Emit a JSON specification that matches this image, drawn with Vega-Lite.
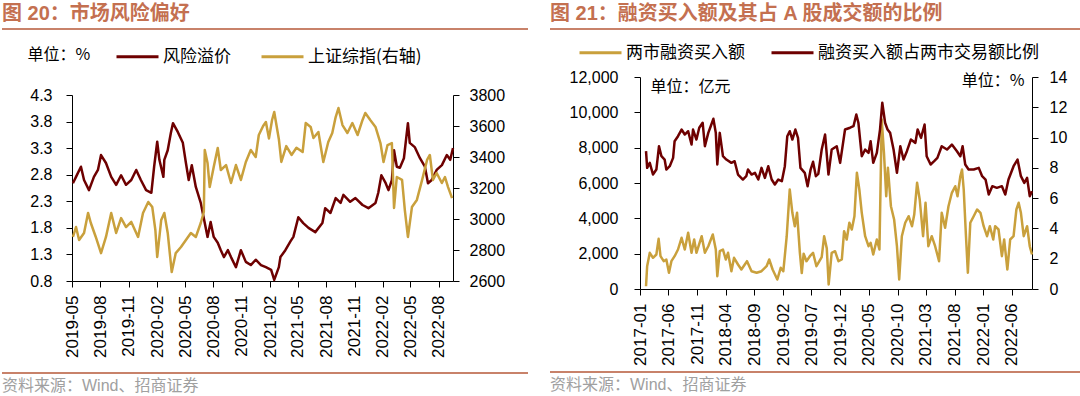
{
  "$schema": "https://vega.github.io/schema/vega-lite/v6.json",
  "padding": {"left": 2, "top": 4, "right": 0, "bottom": 0},
  "background": "white",
  "config": {
    "font": "Liberation Sans",
    "view": {"stroke": null},
    "axis": {"domainColor": "#000", "tickColor": "#000", "labelColor": "#000", "grid": false, "labelFont": "Liberation Sans", "labelFontSize": 16, "titleFont": "Noto Sans CJK SC", "titleFontWeight": "normal", "titleColor": "#000", "titleFontSize": 16, "tickSize": 6, "domainWidth": 1, "tickWidth": 1, "labelOverlap": false},
    "axisX": {"labelOverlap": false, "labelSeparation": 0, "labelFlush": false},
    "legend": {"orient": "none", "direction": "horizontal", "symbolType": "stroke", "symbolStrokeWidth": 3, "symbolSize": 1764, "labelFont": "Noto Sans CJK SC", "labelFontSize": 17, "labelColor": "#000", "labelOffset": 3, "labelLimit": 500, "padding": 0, "title": null},
    "title": {"font": "Liberation Sans, Noto Sans CJK SC", "anchor": "start", "frame": "group"}
  },
  "datasets": {
    "risk": [
      {"date": "2019-05-04", "value": 2.64}, {"date": "2019-05-14", "value": 2.76}, {"date": "2019-05-30", "value": 2.95}, {"date": "2019-06-09", "value": 2.70},
      {"date": "2019-06-25", "value": 2.51}, {"date": "2019-07-11", "value": 2.76}, {"date": "2019-07-24", "value": 2.89}, {"date": "2019-08-03", "value": 3.17},
      {"date": "2019-08-19", "value": 3.02}, {"date": "2019-09-05", "value": 2.76}, {"date": "2019-09-21", "value": 2.61}, {"date": "2019-10-07", "value": 2.79},
      {"date": "2019-10-23", "value": 2.61}, {"date": "2019-11-09", "value": 2.70}, {"date": "2019-11-25", "value": 2.89}, {"date": "2019-12-10", "value": 2.70},
      {"date": "2019-12-27", "value": 2.51}, {"date": "2020-01-13", "value": 2.46}, {"date": "2020-01-22", "value": 2.95}, {"date": "2020-02-01", "value": 3.42},
      {"date": "2020-02-08", "value": 3.08}, {"date": "2020-02-21", "value": 2.76}, {"date": "2020-02-24", "value": 3.08}, {"date": "2020-03-06", "value": 3.26},
      {"date": "2020-03-16", "value": 3.58}, {"date": "2020-03-23", "value": 3.77}, {"date": "2020-04-08", "value": 3.60}, {"date": "2020-04-24", "value": 3.40},
      {"date": "2020-05-04", "value": 3.02}, {"date": "2020-05-13", "value": 2.70}, {"date": "2020-05-23", "value": 2.98}, {"date": "2020-06-05", "value": 2.57},
      {"date": "2020-06-21", "value": 2.27}, {"date": "2020-07-04", "value": 1.89}, {"date": "2020-07-13", "value": 1.63}, {"date": "2020-07-23", "value": 1.91},
      {"date": "2020-08-02", "value": 1.63}, {"date": "2020-08-15", "value": 1.52}, {"date": "2020-08-25", "value": 1.38}, {"date": "2020-09-04", "value": 1.25},
      {"date": "2020-09-17", "value": 1.38}, {"date": "2020-09-27", "value": 1.25}, {"date": "2020-10-13", "value": 1.06}, {"date": "2020-10-29", "value": 1.38},
      {"date": "2020-11-14", "value": 1.16}, {"date": "2020-11-30", "value": 1.10}, {"date": "2020-12-16", "value": 1.20}, {"date": "2021-01-02", "value": 1.10},
      {"date": "2021-01-18", "value": 1.06}, {"date": "2021-02-04", "value": 1.01}, {"date": "2021-02-14", "value": 0.82}, {"date": "2021-03-01", "value": 1.06},
      {"date": "2021-03-06", "value": 1.25}, {"date": "2021-03-22", "value": 1.38}, {"date": "2021-04-08", "value": 1.55}, {"date": "2021-04-17", "value": 1.63},
      {"date": "2021-05-03", "value": 2.00}, {"date": "2021-05-19", "value": 1.89}, {"date": "2021-06-05", "value": 1.80}, {"date": "2021-06-27", "value": 1.72},
      {"date": "2021-07-20", "value": 1.89}, {"date": "2021-07-29", "value": 2.17}, {"date": "2021-08-15", "value": 2.08}, {"date": "2021-09-01", "value": 2.36},
      {"date": "2021-09-17", "value": 2.27}, {"date": "2021-09-26", "value": 2.42}, {"date": "2021-10-18", "value": 2.29}, {"date": "2021-11-04", "value": 2.36},
      {"date": "2021-11-27", "value": 2.23}, {"date": "2021-12-16", "value": 2.17}, {"date": "2022-01-08", "value": 2.27}, {"date": "2022-01-17", "value": 2.46},
      {"date": "2022-01-27", "value": 2.79}, {"date": "2022-02-10", "value": 2.64}, {"date": "2022-02-19", "value": 2.51}, {"date": "2022-03-02", "value": 2.70},
      {"date": "2022-03-09", "value": 3.26}, {"date": "2022-03-18", "value": 2.95}, {"date": "2022-03-28", "value": 2.93}, {"date": "2022-04-10", "value": 3.11},
      {"date": "2022-04-23", "value": 3.77}, {"date": "2022-04-29", "value": 3.40}, {"date": "2022-05-15", "value": 3.32}, {"date": "2022-06-01", "value": 3.11},
      {"date": "2022-06-17", "value": 2.95}, {"date": "2022-06-27", "value": 2.64}, {"date": "2022-07-09", "value": 2.70}, {"date": "2022-07-25", "value": 2.89},
      {"date": "2022-08-11", "value": 2.98}, {"date": "2022-08-27", "value": 3.17}, {"date": "2022-09-07", "value": 3.08}, {"date": "2022-09-16", "value": 3.30}
    ],
    "sh": [
      {"date": "2019-05-04", "value": 2884}, {"date": "2019-05-14", "value": 2948}, {"date": "2019-05-24", "value": 2864}, {"date": "2019-06-09", "value": 2910},
      {"date": "2019-06-22", "value": 3039}, {"date": "2019-07-01", "value": 2974}, {"date": "2019-07-17", "value": 2884}, {"date": "2019-08-03", "value": 2780},
      {"date": "2019-08-19", "value": 2884}, {"date": "2019-09-05", "value": 3039}, {"date": "2019-09-21", "value": 2910}, {"date": "2019-10-07", "value": 3006},
      {"date": "2019-10-23", "value": 2948}, {"date": "2019-11-09", "value": 2981}, {"date": "2019-12-01", "value": 2884}, {"date": "2019-12-17", "value": 3039},
      {"date": "2020-01-03", "value": 3110}, {"date": "2020-01-16", "value": 3077}, {"date": "2020-01-26", "value": 2929}, {"date": "2020-02-01", "value": 2755},
      {"date": "2020-02-14", "value": 2994}, {"date": "2020-02-24", "value": 3039}, {"date": "2020-03-06", "value": 2910}, {"date": "2020-03-19", "value": 2658},
      {"date": "2020-04-01", "value": 2780}, {"date": "2020-04-18", "value": 2819}, {"date": "2020-05-04", "value": 2864}, {"date": "2020-05-20", "value": 2910},
      {"date": "2020-06-05", "value": 2884}, {"date": "2020-06-21", "value": 2974}, {"date": "2020-07-01", "value": 3045}, {"date": "2020-07-04", "value": 3445},
      {"date": "2020-07-13", "value": 3361}, {"date": "2020-07-20", "value": 3206}, {"date": "2020-08-02", "value": 3335}, {"date": "2020-08-15", "value": 3458},
      {"date": "2020-08-25", "value": 3316}, {"date": "2020-09-11", "value": 3348}, {"date": "2020-09-27", "value": 3232}, {"date": "2020-10-13", "value": 3348},
      {"date": "2020-10-29", "value": 3252}, {"date": "2020-11-14", "value": 3368}, {"date": "2020-11-30", "value": 3445}, {"date": "2020-12-16", "value": 3400},
      {"date": "2020-12-26", "value": 3542}, {"date": "2021-01-09", "value": 3600}, {"date": "2021-01-18", "value": 3626}, {"date": "2021-01-28", "value": 3520},
      {"date": "2021-02-07", "value": 3639}, {"date": "2021-02-14", "value": 3690}, {"date": "2021-03-01", "value": 3515}, {"date": "2021-03-09", "value": 3368},
      {"date": "2021-03-25", "value": 3470}, {"date": "2021-04-11", "value": 3413}, {"date": "2021-04-27", "value": 3460}, {"date": "2021-05-17", "value": 3432},
      {"date": "2021-05-27", "value": 3619}, {"date": "2021-06-12", "value": 3594}, {"date": "2021-06-21", "value": 3523}, {"date": "2021-07-07", "value": 3561},
      {"date": "2021-07-23", "value": 3368}, {"date": "2021-08-08", "value": 3497}, {"date": "2021-08-21", "value": 3555}, {"date": "2021-09-01", "value": 3658},
      {"date": "2021-09-10", "value": 3716}, {"date": "2021-09-23", "value": 3606}, {"date": "2021-10-09", "value": 3555}, {"date": "2021-10-25", "value": 3619},
      {"date": "2021-11-11", "value": 3542}, {"date": "2021-11-27", "value": 3639}, {"date": "2021-12-06", "value": 3684}, {"date": "2021-12-22", "value": 3639},
      {"date": "2022-01-08", "value": 3594}, {"date": "2022-01-24", "value": 3490}, {"date": "2022-02-03", "value": 3368}, {"date": "2022-02-16", "value": 3477},
      {"date": "2022-03-02", "value": 3490}, {"date": "2022-03-09", "value": 3071}, {"date": "2022-03-18", "value": 3271}, {"date": "2022-04-04", "value": 3252},
      {"date": "2022-04-13", "value": 3058}, {"date": "2022-04-23", "value": 2884}, {"date": "2022-05-06", "value": 3077}, {"date": "2022-05-22", "value": 3123},
      {"date": "2022-06-08", "value": 3252}, {"date": "2022-06-24", "value": 3381}, {"date": "2022-07-03", "value": 3413}, {"date": "2022-07-13", "value": 3252},
      {"date": "2022-07-25", "value": 3297}, {"date": "2022-08-11", "value": 3232}, {"date": "2022-08-21", "value": 3271}, {"date": "2022-08-31", "value": 3206},
      {"date": "2022-09-13", "value": 3135}
    ],
    "margin": [
      {"date": "2017-02-02", "value": 158}, {"date": "2017-02-08", "value": 1290}, {"date": "2017-02-22", "value": 2049}, {"date": "2017-03-11", "value": 1766},
      {"date": "2017-03-29", "value": 1953}, {"date": "2017-04-10", "value": 2841}, {"date": "2017-04-20", "value": 1857}, {"date": "2017-05-07", "value": 1574},
      {"date": "2017-05-21", "value": 1670}, {"date": "2017-06-04", "value": 917}, {"date": "2017-06-17", "value": 1574}, {"date": "2017-07-04", "value": 1857},
      {"date": "2017-07-22", "value": 2236}, {"date": "2017-08-10", "value": 2898}, {"date": "2017-08-27", "value": 2236}, {"date": "2017-09-14", "value": 3181},
      {"date": "2017-10-02", "value": 2049}, {"date": "2017-10-16", "value": 2802}, {"date": "2017-10-28", "value": 2049}, {"date": "2017-11-25", "value": 2988},
      {"date": "2017-12-12", "value": 2049}, {"date": "2017-12-30", "value": 2422}, {"date": "2018-01-23", "value": 3085}, {"date": "2018-02-08", "value": 2236},
      {"date": "2018-02-16", "value": 724}, {"date": "2018-03-01", "value": 2140}, {"date": "2018-03-18", "value": 2236}, {"date": "2018-04-02", "value": 1670},
      {"date": "2018-04-14", "value": 2049}, {"date": "2018-05-02", "value": 1007}, {"date": "2018-05-16", "value": 1766}, {"date": "2018-06-06", "value": 1387},
      {"date": "2018-06-24", "value": 1104}, {"date": "2018-07-24", "value": 1574}, {"date": "2018-08-17", "value": 1007}, {"date": "2018-09-13", "value": 917},
      {"date": "2018-10-09", "value": 1007}, {"date": "2018-11-05", "value": 1290}, {"date": "2018-11-19", "value": 1670}, {"date": "2018-12-07", "value": 1104},
      {"date": "2019-01-01", "value": 538}, {"date": "2019-01-19", "value": 1200}, {"date": "2019-02-02", "value": 1007}, {"date": "2019-02-20", "value": 2988},
      {"date": "2019-03-08", "value": 5632}, {"date": "2019-03-22", "value": 4313}, {"date": "2019-04-04", "value": 3554}, {"date": "2019-04-16", "value": 4313},
      {"date": "2019-05-01", "value": 2049}, {"date": "2019-05-11", "value": 900}, {"date": "2019-05-21", "value": 2000}, {"date": "2019-06-05", "value": 1574},
      {"date": "2019-06-23", "value": 1857}, {"date": "2019-07-10", "value": 2049}, {"date": "2019-07-28", "value": 1290}, {"date": "2019-08-25", "value": 1800},
      {"date": "2019-09-07", "value": 2988}, {"date": "2019-09-21", "value": 2300}, {"date": "2019-10-01", "value": 255}, {"date": "2019-10-17", "value": 2049},
      {"date": "2019-11-04", "value": 2140}, {"date": "2019-11-22", "value": 1574}, {"date": "2019-12-10", "value": 1670}, {"date": "2019-12-22", "value": 3272},
      {"date": "2020-01-05", "value": 2802}, {"date": "2020-01-19", "value": 3747}, {"date": "2020-02-01", "value": 3368}, {"date": "2020-02-15", "value": 4120},
      {"date": "2020-02-28", "value": 6577}, {"date": "2020-03-12", "value": 5632}, {"date": "2020-03-25", "value": 4313}, {"date": "2020-04-12", "value": 2988},
      {"date": "2020-04-30", "value": 2422}, {"date": "2020-05-11", "value": 2615}, {"date": "2020-05-25", "value": 1953}, {"date": "2020-06-13", "value": 2802},
      {"date": "2020-06-27", "value": 2236}, {"date": "2020-07-09", "value": 9594}, {"date": "2020-07-21", "value": 7709}, {"date": "2020-08-02", "value": 5252},
      {"date": "2020-08-11", "value": 6860}, {"date": "2020-08-27", "value": 4687}, {"date": "2020-09-13", "value": 3934}, {"date": "2020-09-28", "value": 2422},
      {"date": "2020-10-10", "value": 538}, {"date": "2020-10-24", "value": 2988}, {"date": "2020-11-11", "value": 3747}, {"date": "2020-11-29", "value": 4120},
      {"date": "2020-12-17", "value": 3554}, {"date": "2020-12-29", "value": 4216}, {"date": "2021-01-13", "value": 6011}, {"date": "2021-01-27", "value": 5066},
      {"date": "2021-02-14", "value": 2988}, {"date": "2021-02-27", "value": 4879}, {"date": "2021-03-14", "value": 2422}, {"date": "2021-04-01", "value": 2988},
      {"date": "2021-04-19", "value": 2422}, {"date": "2021-05-10", "value": 1574}, {"date": "2021-05-24", "value": 4313}, {"date": "2021-06-11", "value": 3464},
      {"date": "2021-06-29", "value": 4687}, {"date": "2021-07-17", "value": 5445}, {"date": "2021-08-04", "value": 5819}, {"date": "2021-08-16", "value": 5252},
      {"date": "2021-08-31", "value": 6384}, {"date": "2021-09-09", "value": 6764}, {"date": "2021-09-18", "value": 5632}, {"date": "2021-09-30", "value": 2988},
      {"date": "2021-10-10", "value": 917}, {"date": "2021-10-23", "value": 3747}, {"date": "2021-11-10", "value": 4120}, {"date": "2021-11-28", "value": 4500},
      {"date": "2021-12-16", "value": 4313}, {"date": "2022-01-02", "value": 3554}, {"date": "2022-01-20", "value": 2988}, {"date": "2022-02-04", "value": 3554},
      {"date": "2022-02-22", "value": 2802}, {"date": "2022-03-04", "value": 3554}, {"date": "2022-03-22", "value": 3368}, {"date": "2022-04-09", "value": 1857},
      {"date": "2022-04-21", "value": 2802}, {"date": "2022-05-08", "value": 1104}, {"date": "2022-05-23", "value": 2802}, {"date": "2022-06-10", "value": 2988},
      {"date": "2022-06-25", "value": 4500}, {"date": "2022-07-07", "value": 4879}, {"date": "2022-07-19", "value": 4313}, {"date": "2022-08-03", "value": 2988},
      {"date": "2022-08-21", "value": 3554}, {"date": "2022-09-04", "value": 2422}, {"date": "2022-09-16", "value": 1953}
    ],
    "ratio": [
      {"date": "2017-02-02", "value": 9.10}, {"date": "2017-02-08", "value": 8.00}, {"date": "2017-02-22", "value": 8.33}, {"date": "2017-03-11", "value": 7.56},
      {"date": "2017-03-29", "value": 7.89}, {"date": "2017-04-12", "value": 9.43}, {"date": "2017-04-25", "value": 8.77}, {"date": "2017-05-12", "value": 8.55},
      {"date": "2017-05-21", "value": 7.89}, {"date": "2017-06-08", "value": 8.11}, {"date": "2017-06-26", "value": 8.66}, {"date": "2017-07-04", "value": 9.76},
      {"date": "2017-07-22", "value": 10.09}, {"date": "2017-08-10", "value": 10.53}, {"date": "2017-08-27", "value": 10.20}, {"date": "2017-09-14", "value": 10.42},
      {"date": "2017-10-02", "value": 9.54}, {"date": "2017-10-10", "value": 10.53}, {"date": "2017-10-28", "value": 9.87}, {"date": "2017-11-12", "value": 10.65},
      {"date": "2017-11-30", "value": 10.98}, {"date": "2017-12-12", "value": 9.43}, {"date": "2017-12-30", "value": 10.31}, {"date": "2018-01-12", "value": 10.75},
      {"date": "2018-01-26", "value": 11.24}, {"date": "2018-02-08", "value": 10.31}, {"date": "2018-02-16", "value": 8.22}, {"date": "2018-03-01", "value": 10.31},
      {"date": "2018-03-18", "value": 8.77}, {"date": "2018-04-05", "value": 8.55}, {"date": "2018-05-02", "value": 8.33}, {"date": "2018-05-19", "value": 8.44},
      {"date": "2018-06-06", "value": 7.56}, {"date": "2018-07-02", "value": 7.23}, {"date": "2018-07-20", "value": 7.45}, {"date": "2018-07-29", "value": 7.89},
      {"date": "2018-08-17", "value": 7.56}, {"date": "2018-09-04", "value": 7.67}, {"date": "2018-09-22", "value": 7.23}, {"date": "2018-10-09", "value": 8.00},
      {"date": "2018-10-27", "value": 7.34}, {"date": "2018-11-14", "value": 8.11}, {"date": "2018-12-02", "value": 7.23}, {"date": "2018-12-19", "value": 6.90},
      {"date": "2019-01-06", "value": 7.23}, {"date": "2019-01-25", "value": 7.12}, {"date": "2019-02-10", "value": 8.11}, {"date": "2019-02-23", "value": 10.09},
      {"date": "2019-03-08", "value": 10.42}, {"date": "2019-03-22", "value": 9.87}, {"date": "2019-04-07", "value": 10.53}, {"date": "2019-04-21", "value": 9.98},
      {"date": "2019-05-04", "value": 8.00}, {"date": "2019-05-27", "value": 7.67}, {"date": "2019-06-11", "value": 6.79}, {"date": "2019-06-27", "value": 7.89},
      {"date": "2019-07-10", "value": 8.40}, {"date": "2019-07-25", "value": 7.45}, {"date": "2019-08-07", "value": 7.60}, {"date": "2019-08-25", "value": 9.21},
      {"date": "2019-09-12", "value": 10.20}, {"date": "2019-09-30", "value": 7.56}, {"date": "2019-10-17", "value": 9.21}, {"date": "2019-11-13", "value": 9.43},
      {"date": "2019-12-01", "value": 8.33}, {"date": "2019-12-27", "value": 10.53}, {"date": "2020-01-23", "value": 10.65}, {"date": "2020-02-10", "value": 10.75},
      {"date": "2020-02-25", "value": 11.52}, {"date": "2020-03-07", "value": 10.98}, {"date": "2020-03-25", "value": 8.77}, {"date": "2020-04-12", "value": 9.21},
      {"date": "2020-04-30", "value": 8.99}, {"date": "2020-05-11", "value": 9.76}, {"date": "2020-05-25", "value": 8.33}, {"date": "2020-06-13", "value": 8.99},
      {"date": "2020-06-30", "value": 10.53}, {"date": "2020-07-12", "value": 12.30}, {"date": "2020-07-27", "value": 10.98}, {"date": "2020-08-09", "value": 10.53},
      {"date": "2020-08-23", "value": 10.31}, {"date": "2020-09-10", "value": 9.21}, {"date": "2020-09-28", "value": 7.67}, {"date": "2020-10-16", "value": 9.43},
      {"date": "2020-11-02", "value": 8.55}, {"date": "2020-11-20", "value": 9.10}, {"date": "2020-12-11", "value": 9.87}, {"date": "2021-01-04", "value": 9.65},
      {"date": "2021-01-16", "value": 10.53}, {"date": "2021-02-03", "value": 9.98}, {"date": "2021-02-22", "value": 10.86}, {"date": "2021-03-05", "value": 8.77},
      {"date": "2021-03-26", "value": 8.22}, {"date": "2021-04-14", "value": 8.44}, {"date": "2021-05-01", "value": 8.66}, {"date": "2021-05-24", "value": 9.43},
      {"date": "2021-06-21", "value": 9.21}, {"date": "2021-07-17", "value": 9.54}, {"date": "2021-08-13", "value": 9.10}, {"date": "2021-08-31", "value": 8.77},
      {"date": "2021-09-12", "value": 9.43}, {"date": "2021-09-26", "value": 8.22}, {"date": "2021-10-14", "value": 7.89}, {"date": "2021-11-10", "value": 7.89},
      {"date": "2021-12-07", "value": 8.00}, {"date": "2021-12-25", "value": 7.45}, {"date": "2022-01-12", "value": 7.23}, {"date": "2022-01-29", "value": 6.24},
      {"date": "2022-02-17", "value": 6.79}, {"date": "2022-03-13", "value": 6.68}, {"date": "2022-04-09", "value": 6.79}, {"date": "2022-04-27", "value": 6.24},
      {"date": "2022-05-14", "value": 7.23}, {"date": "2022-06-10", "value": 8.11}, {"date": "2022-07-01", "value": 8.55}, {"date": "2022-07-19", "value": 7.45},
      {"date": "2022-08-06", "value": 7.01}, {"date": "2022-08-21", "value": 7.34}, {"date": "2022-09-04", "value": 6.13}, {"date": "2022-09-16", "value": 6.46}
    ]
  },
  "spacing": 22,
  "resolve": {"scale": {"color": "independent"}, "legend": {"color": "independent"}},
  "hconcat": [
    {
      "spacing": 4,
      "resolve": {"scale": {"color": "independent"}, "legend": {"color": "independent"}},
      "vconcat": [
        {
          "width": 526, "height": 2,
          "data": {"values": []},
          "mark": "point",
          "view": {"fill": "#C8826A", "stroke": null},
          "title": {"text": "图 20：市场风险偏好", "fontSize": 20, "fontWeight": "bold", "color": "#C47050", "offset": 4}
        },
        {
          "spacing": 14,
          "resolve": {"scale": {"color": "independent"}, "legend": {"color": "independent"}},
          "vconcat": [
            {
              "spacing": 0,
              "resolve": {"scale": {"color": "independent"}, "legend": {"color": "independent"}},
              "hconcat": [
                {"width": 25, "height": 1, "data": {"values": []}, "mark": "point"},
                {
                  "width": 381, "height": 186,
                  "resolve": {"scale": {"y": "independent"}},
                  "layer": [
                    {
                      "data": {"name": "risk"},
                      "mark": {"type": "line", "strokeWidth": 2.5, "strokeJoin": "round"},
                      "encoding": {
                        "x": {"field": "date", "type": "temporal",
                          "scale": {"domain": [{"year": 2019, "month": 5, "date": 1}, {"year": 2022, "month": 9, "date": 16}]},
                          "axis": {"title": null, "format": "%Y-%m", "labelAngle": 270, "labelFontSize": 17, "labelPadding": 8, "labelFlush": false, "labelOverlap": false, "labelSeparation": 0,
                            "values": [{"year": 2019, "month": 5, "date": 1}, {"year": 2019, "month": 8, "date": 1}, {"year": 2019, "month": 11, "date": 1}, {"year": 2020, "month": 2, "date": 1}, {"year": 2020, "month": 5, "date": 1}, {"year": 2020, "month": 8, "date": 1}, {"year": 2020, "month": 11, "date": 1}, {"year": 2021, "month": 2, "date": 1}, {"year": 2021, "month": 5, "date": 1}, {"year": 2021, "month": 8, "date": 1}, {"year": 2021, "month": 11, "date": 1}, {"year": 2022, "month": 2, "date": 1}, {"year": 2022, "month": 5, "date": 1}, {"year": 2022, "month": 8, "date": 1}]}},
                        "y": {"field": "value", "type": "quantitative",
                          "scale": {"domain": [0.8, 4.3], "zero": false, "nice": false},
                          "axis": {"orient": "left", "values": [0.8, 1.3, 1.8, 2.3, 2.8, 3.3, 3.8, 4.3], "format": ".1f", "labelPadding": 14,
                            "title": "单位：%", "titleAngle": 0, "titleAlign": "left", "titleBaseline": "middle", "titleX": -45, "titleY": -41}},
                        "color": {"datum": "风险溢价", "type": "nominal",
                          "scale": {"domain": ["风险溢价", "上证综指(右轴)"], "range": ["#6E0000", "#C9A03C"]},
                          "legend": {"legendX": 43, "legendY": -61, "columnPadding": 24}}
                      }
                    },
                    {
                      "data": {"name": "sh"},
                      "mark": {"type": "line", "strokeWidth": 2.5, "strokeJoin": "round"},
                      "encoding": {
                        "x": {"field": "date", "type": "temporal",
                          "scale": {"domain": [{"year": 2019, "month": 5, "date": 1}, {"year": 2022, "month": 9, "date": 16}]},
                          "axis": {"title": null, "format": "%Y-%m", "labelAngle": 270, "labelFontSize": 17, "labelPadding": 8, "labelFlush": false, "labelOverlap": false, "labelSeparation": 0,
                            "values": [{"year": 2019, "month": 5, "date": 1}, {"year": 2019, "month": 8, "date": 1}, {"year": 2019, "month": 11, "date": 1}, {"year": 2020, "month": 2, "date": 1}, {"year": 2020, "month": 5, "date": 1}, {"year": 2020, "month": 8, "date": 1}, {"year": 2020, "month": 11, "date": 1}, {"year": 2021, "month": 2, "date": 1}, {"year": 2021, "month": 5, "date": 1}, {"year": 2021, "month": 8, "date": 1}, {"year": 2021, "month": 11, "date": 1}, {"year": 2022, "month": 2, "date": 1}, {"year": 2022, "month": 5, "date": 1}, {"year": 2022, "month": 8, "date": 1}]}},
                        "y": {"field": "value", "type": "quantitative",
                          "scale": {"domain": [2600, 3800], "zero": false, "nice": false},
                          "axis": {"orient": "right", "values": [2600, 2800, 3000, 3200, 3400, 3600, 3800], "format": "d", "labelPadding": 10, "title": null}},
                        "color": {"datum": "上证综指(右轴)", "type": "nominal"}
                      }
                    }
                  ]
                }
              ]
            },
            {
              "width": 526, "height": 2,
              "data": {"values": []},
              "mark": "point",
              "view": {"fill": "#C8826A", "stroke": null},
              "title": {"text": "资料来源：Wind、招商证券", "orient": "bottom", "fontSize": 16, "fontWeight": "normal", "color": "#A0A0A0", "offset": 4, "font": "Liberation Sans, Noto Sans CJK SC"}
            }
          ]
        }
      ]
    },
    {
      "spacing": 0,
      "resolve": {"scale": {"color": "independent"}, "legend": {"color": "independent"}},
      "vconcat": [
        {
          "width": 530, "height": 2,
          "data": {"values": []},
          "mark": "point",
          "view": {"fill": "#C8826A", "stroke": null},
          "title": {"text": "图 21：融资买入额及其占 A 股成交额的比例", "fontSize": 20, "fontWeight": "bold", "color": "#C47050", "offset": 4}
        },
        {
          "spacing": 5,
          "resolve": {"scale": {"color": "independent"}, "legend": {"color": "independent"}},
          "vconcat": [
            {
              "spacing": 0,
              "resolve": {"scale": {"color": "independent"}, "legend": {"color": "independent"}},
              "hconcat": [
                {"width": 19, "height": 1, "data": {"values": []}, "mark": "point"},
                {
                  "width": 392, "height": 212,
                  "resolve": {"scale": {"y": "independent"}},
                  "layer": [
                    {
                      "data": {"name": "margin"},
                      "mark": {"type": "line", "strokeWidth": 2.5, "strokeJoin": "round"},
                      "encoding": {
                        "x": {"field": "date", "type": "temporal",
                          "scale": {"domain": [{"year": 2017, "month": 1, "date": 1}, {"year": 2022, "month": 9, "date": 16}]},
                          "axis": {"title": null, "format": "%Y-%m", "labelAngle": 270, "labelFontSize": 17, "labelPadding": 8, "labelFlush": false, "labelOverlap": false, "labelSeparation": 0,
                            "values": [{"year": 2017, "month": 1, "date": 1}, {"year": 2017, "month": 6, "date": 1}, {"year": 2017, "month": 11, "date": 1}, {"year": 2018, "month": 4, "date": 1}, {"year": 2018, "month": 9, "date": 1}, {"year": 2019, "month": 2, "date": 1}, {"year": 2019, "month": 7, "date": 1}, {"year": 2019, "month": 12, "date": 1}, {"year": 2020, "month": 5, "date": 1}, {"year": 2020, "month": 10, "date": 1}, {"year": 2021, "month": 3, "date": 1}, {"year": 2021, "month": 8, "date": 1}, {"year": 2022, "month": 1, "date": 1}, {"year": 2022, "month": 6, "date": 1}]}},
                        "y": {"field": "value", "type": "quantitative",
                          "scale": {"domain": [0, 12000], "zero": false, "nice": false},
                          "axis": {"orient": "left", "values": [0, 2000, 4000, 6000, 8000, 10000, 12000], "format": ",d", "labelPadding": 16,
                            "title": "单位：亿元", "titleAngle": 0, "titleAlign": "left", "titleBaseline": "middle", "titleX": 10, "titleY": 9}},
                        "color": {"datum": "两市融资买入额", "type": "nominal",
                          "scale": {"domain": ["两市融资买入额", "融资买入额占两市交易额比例"], "range": ["#C9A03C", "#6E0000"]},
                          "legend": {"legendX": -62, "legendY": -47, "columnPadding": 20}}
                      }
                    },
                    {
                      "data": {"name": "ratio"},
                      "mark": {"type": "line", "strokeWidth": 2.5, "strokeJoin": "round"},
                      "encoding": {
                        "x": {"field": "date", "type": "temporal",
                          "scale": {"domain": [{"year": 2017, "month": 1, "date": 1}, {"year": 2022, "month": 9, "date": 16}]},
                          "axis": {"title": null, "format": "%Y-%m", "labelAngle": 270, "labelFontSize": 17, "labelPadding": 8, "labelFlush": false, "labelOverlap": false, "labelSeparation": 0,
                            "values": [{"year": 2017, "month": 1, "date": 1}, {"year": 2017, "month": 6, "date": 1}, {"year": 2017, "month": 11, "date": 1}, {"year": 2018, "month": 4, "date": 1}, {"year": 2018, "month": 9, "date": 1}, {"year": 2019, "month": 2, "date": 1}, {"year": 2019, "month": 7, "date": 1}, {"year": 2019, "month": 12, "date": 1}, {"year": 2020, "month": 5, "date": 1}, {"year": 2020, "month": 10, "date": 1}, {"year": 2021, "month": 3, "date": 1}, {"year": 2021, "month": 8, "date": 1}, {"year": 2022, "month": 1, "date": 1}, {"year": 2022, "month": 6, "date": 1}]}},
                        "y": {"field": "value", "type": "quantitative",
                          "scale": {"domain": [0, 14], "zero": false, "nice": false},
                          "axis": {"orient": "right", "values": [0, 2, 4, 6, 8, 10, 12, 14], "format": "d", "labelPadding": 11,
                            "title": "单位：%", "titleAngle": 0, "titleAlign": "right", "titleBaseline": "middle", "titleX": -8, "titleY": 3}},
                        "color": {"datum": "融资买入额占两市交易额比例", "type": "nominal"}
                      }
                    }
                  ]
                }
              ]
            },
            {
              "width": 530, "height": 2,
              "data": {"values": []},
              "mark": "point",
              "view": {"fill": "#C8826A", "stroke": null},
              "title": {"text": "资料来源：Wind、招商证券", "orient": "bottom", "fontSize": 16, "fontWeight": "normal", "color": "#A0A0A0", "offset": 4, "font": "Liberation Sans, Noto Sans CJK SC"}
            }
          ]
        }
      ]
    }
  ]
}
